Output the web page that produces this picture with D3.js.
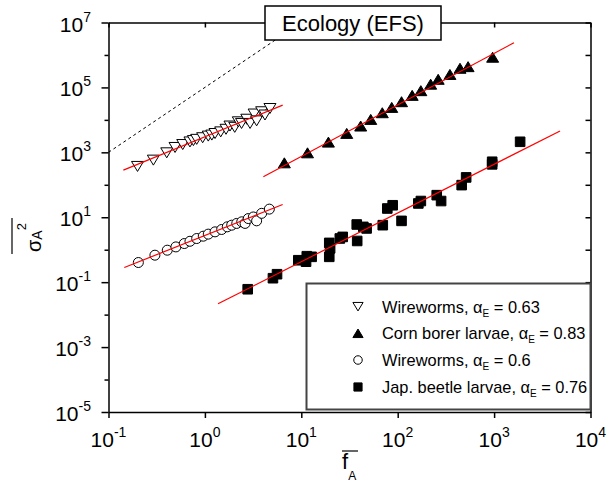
<!DOCTYPE html>
<html><head><meta charset="utf-8">
<script src="https://cdn.jsdelivr.net/npm/d3@7"></script>
<style>body{margin:0;background:#fff}svg{font-family:"Liberation Sans",Arial,sans-serif}</style>
</head><body><svg id="c" width="611" height="485"></svg>
<script>
// ---------- data ----------
const xTicks = [0.1, 1, 10, 100, 1000, 10000];
const xTickExp = ["-1", "0", "1", "2", "3", "4"];
const yMajorTicks = [1e-5, 1e-3, 1e-1, 1e1, 1e3, 1e5, 1e7];
const yMajorExp = ["-5", "-3", "-1", "1", "3", "5", "7"];
const yMinorTicks = [1e-4, 1e-2, 1, 1e2, 1e4, 1e6];

// Wireworms (down triangles), alpha_E = 0.63
const wwTriF = [0.20,0.292,0.402,0.49,0.589,0.70,0.76,0.822,0.948,1.084,1.18,1.274,1.459,1.656,1.82,2.04,2.22,2.40,2.72,2.94,3.24,3.44,3.88,4.20,4.73];
const wwTriS = [368,575,966,1413,1738,2089,2300,2512,2818,3162,3400,3802,4266,5129,6457,5888,8710,7762,10470,7762,15140,9333,17780,14130,22390];
// Corn borer larvae (up triangles), alpha_E = 0.83
const cornF = [6.67,11.6,19.1,29.6,41.3,52.5,69.2,86.7,109.6,141.3,173.8,219.8,263,348,443,537,966];
const cornS = [475,966,2065,3837,6457,10350,16600,24270,36310,56890,79430,125900,177800,251200,389000,436500,851100];
// Wireworms (circles), alpha_E = 0.6
const wwCircF = [0.204,0.303,0.407,0.50,0.611,0.70,0.822,0.962,1.084,1.274,1.493,1.706,1.897,2.14,2.41,2.61,2.82,3.18,3.44,3.88,4.66];
const wwCircS = [0.403,0.678,0.966,1.22,1.55,1.82,2.21,2.61,3.02,3.55,4.20,5.07,5.70,6.46,7.24,6.46,9.12,10.2,7.76,13.2,17.8];
// Jap. beetle larvae (squares), alpha_E = 0.76
const beetleF = [2.78,5.08,5.60,9.31,11.2,11.4,12.8,19.5,19.5,19.9,25.1,26.9,37.6,38.0,44.0,47.6,70.0,78.0,88.7,109.6,163.7,173.8,254,282,461,513,955,955,1862];
const beetleS = [0.0605,0.1324,0.1758,0.474,0.427,0.631,0.603,1.62,0.603,1.10,2.22,2.48,5.98,1.86,5.05,4.52,5.70,18.6,23.4,7.73,26.6,31.6,47.9,31.6,97.7,168.7,513,427,2113];

// fitted lines (endpoints)
const fitWwTriF = [0.1426, 6.41], fitWwTriS = [283, 28580];
const fitWwCircF = [0.1459, 6.41], fitWwCircS = [0.2825, 24.8];
const fitCornF = [4.04, 1607], fitCornS = [175.8, 2.38e6];
const fitBeetleF = [1.368, 4831], fitBeetleS = [0.0216, 4560];
// reference slope-2 line (dashed)
const refF = [0.1, 10], refS = [1e3, 1e7];

const legendLabels = ["Wireworms, ", "Corn borer larvae, ", "Wireworms, ", "Jap. beetle larvae, "];
const legendAlpha = ["0.63", "0.83", "0.6", "0.76"];
const legendSymbols = ["tdown", "tup", "circle", "square"];
const title = "Ecology (EFS)";

// ---------- chart ----------
const svg = d3.select("#c");
const L = 108.5, R = 590.5, T = 22.5, B = 412;
const x = d3.scaleLog().domain([0.1, 1e4]).range([L, R]);
const y = d3.scaleLog().domain([1e-5, 1e7]).range([B, T]);

svg.append("defs").append("clipPath").attr("id", "clip")
  .append("rect").attr("x", L).attr("y", T).attr("width", R - L).attr("height", B - T);
const plot = svg.append("g").attr("clip-path", "url(#clip)");

const line = d3.line().x(d => x(d[0])).y(d => y(d[1]));
plot.append("path").datum(d3.zip(refF, refS)).attr("d", line)
  .attr("fill", "none").attr("stroke", "#000").attr("stroke-width", 1).attr("stroke-dasharray", "3,3");

function sym(type, s) {
  if (type === "tdown") return `M${-6*s},${-5*s}L${6*s},${-5*s}L0,${5*s}Z`;
  if (type === "tup") return `M${-6*s},${5*s}L${6*s},${5*s}L0,${-5*s}Z`;
  if (type === "square") return `M${-4.8*s},${-4.8*s}h${9.6*s}v${9.6*s}h${-9.6*s}Z`;
  const r = 5 * s;
  return `M${r},0A${r},${r} 0 1,1 ${-r},0A${r},${r} 0 1,1 ${r},0Z`;
}
function styleOf(type) {
  return (type === "tdown" || type === "circle") ? {fill: "#fff", stroke: "#000"} : {fill: "#000", stroke: "#000"};
}
function drawSeries(fs, ss, type) {
  const st = styleOf(type);
  plot.append("g").selectAll("path").data(d3.zip(fs, ss)).join("path")
    .attr("transform", d => `translate(${x(d[0])},${y(d[1])})`)
    .attr("d", sym(type, 1)).attr("fill", st.fill).attr("stroke", st.stroke).attr("stroke-width", 1);
}
drawSeries(wwTriF, wwTriS, "tdown");
drawSeries(cornF, cornS, "tup");
drawSeries(wwCircF, wwCircS, "circle");
drawSeries(beetleF, beetleS, "square");

[[fitWwTriF, fitWwTriS], [fitWwCircF, fitWwCircS], [fitCornF, fitCornS], [fitBeetleF, fitBeetleS]].forEach(([f, s]) => {
  plot.append("path").datum(d3.zip(f, s)).attr("d", line)
    .attr("fill", "none").attr("stroke", "#ff0000").attr("stroke-width", 1.2);
});

// ---------- axes ----------
function styleAxis(g) {
  g.selectAll("path,line").attr("stroke", "#000").attr("stroke-width", 1.5);
  g.selectAll("text").remove();
}
svg.append("g").attr("transform", `translate(0,${B})`)
  .call(d3.axisBottom(x).tickValues(xTicks).tickSize(6).tickSizeOuter(0).tickFormat("")).call(styleAxis);
svg.append("g").attr("transform", `translate(0,${T})`)
  .call(d3.axisTop(x).tickValues(xTicks).tickSize(-5).tickSizeOuter(0).tickFormat("")).call(styleAxis);
svg.append("g").attr("transform", `translate(${L},0)`)
  .call(d3.axisLeft(y).tickValues(yMajorTicks).tickSize(7).tickSizeOuter(0).tickFormat("")).call(styleAxis);
svg.append("g").attr("transform", `translate(${L},0)`)
  .call(d3.axisLeft(y).tickValues(yMinorTicks).tickSize(4).tickSizeOuter(0).tickFormat("")).call(styleAxis)
  .select(".domain").remove();
svg.append("g").attr("transform", `translate(${R},0)`)
  .call(d3.axisRight(y).tickValues(yMajorTicks.concat(yMinorTicks)).tickSize(-5).tickSizeOuter(0).tickFormat("")).call(styleAxis);

// x tick labels
xTicks.forEach((v, i) => {
  const t = svg.append("text").attr("x", x(v)).attr("y", 447).attr("text-anchor", "middle")
    .attr("font-size", 21).attr("fill", "#000");
  t.append("tspan").text("10");
  t.append("tspan").attr("font-size", 14).attr("dy", -10).text(xTickExp[i]);
});
// y tick labels
yMajorTicks.forEach((v, i) => {
  const t = svg.append("text").attr("x", 91).attr("y", y(v) + 9).attr("text-anchor", "end")
    .attr("font-size", 21).attr("fill", "#000");
  t.append("tspan").text("10");
  t.append("tspan").attr("font-size", 14).attr("dy", -10).text(yMajorExp[i]);
});

// axis titles
const xl = svg.append("text").attr("x", 342).attr("y", 469).attr("font-size", 22);
xl.append("tspan").text("f");
xl.append("tspan").attr("font-size", 12).attr("dy", 11).text("A");
svg.append("line").attr("x1", 342).attr("x2", 358).attr("y1", 451).attr("y2", 451).attr("stroke", "#000").attr("stroke-width", 1.2);

const yl = svg.append("text").attr("transform", "translate(41,252) rotate(-90)").attr("font-size", 20);
yl.append("tspan").text("σ");
yl.append("tspan").attr("font-size", 14).attr("dy", 1).text("A");
yl.append("tspan").attr("font-size", 13).attr("dy", -16).text("2");
svg.append("line").attr("x1", 12).attr("x2", 12).attr("y1", 218).attr("y2", 254).attr("stroke", "#000").attr("stroke-width", 1.2);

// title box
svg.append("rect").attr("x", 265).attr("y", 6).attr("width", 176).attr("height", 34)
  .attr("fill", "#fff").attr("stroke", "#000").attr("stroke-width", 1.5);
svg.append("text").attr("x", 353).attr("y", 31).attr("text-anchor", "middle").attr("font-size", 22).text(title);

// legend
svg.append("rect").attr("x", 306.5).attr("y", 283.5).attr("width", 284).attr("height", 126)
  .attr("fill", "#fff").attr("stroke", "#444").attr("stroke-width", 2);
const rowY = [306.7, 333.3, 360, 387];
legendLabels.forEach((lab, i) => {
  const st = styleOf(legendSymbols[i]);
  svg.append("path").attr("transform", `translate(358,${rowY[i]})`).attr("d", sym(legendSymbols[i], 0.85))
    .attr("fill", st.fill).attr("stroke", st.stroke).attr("stroke-width", 1);
  const t = svg.append("text").attr("x", 382).attr("y", rowY[i] + 6).attr("font-size", 16.4);
  t.append("tspan").text(lab);
  t.append("tspan").text("α");
  t.append("tspan").attr("font-size", 10).attr("dy", 4).text("E");
  t.append("tspan").attr("dy", -4).text(" = " + legendAlpha[i]);
});
</script></body></html>
